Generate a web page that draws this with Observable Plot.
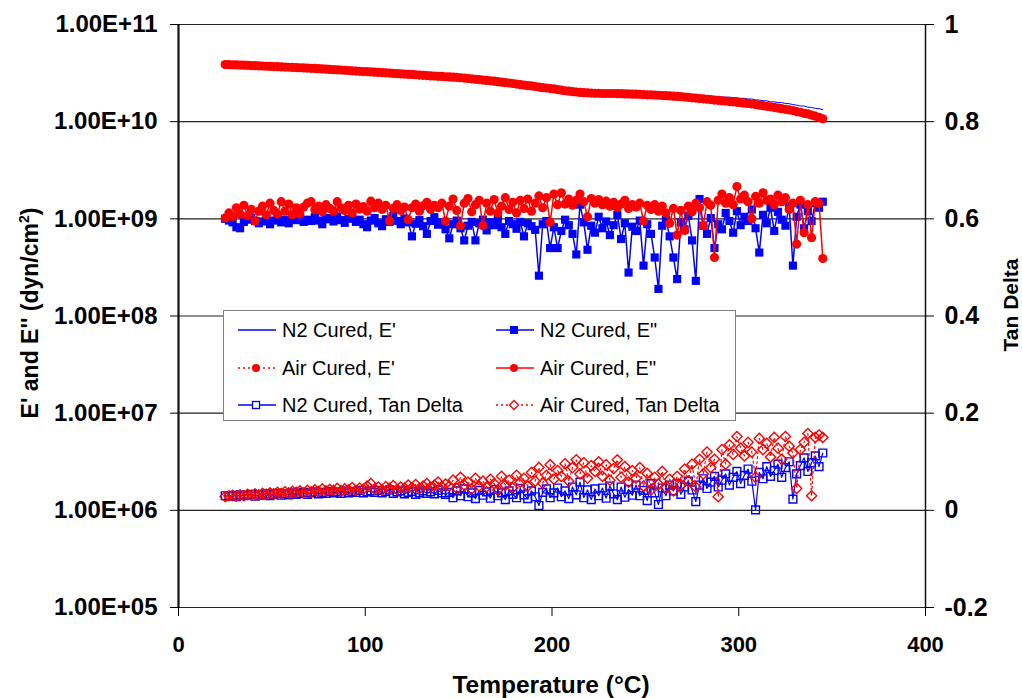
<!DOCTYPE html>
<html><head><meta charset="utf-8">
<script src="https://cdn.jsdelivr.net/npm/d3@7"></script>
<script src="https://cdn.jsdelivr.net/npm/@observablehq/plot@0.6"></script>
<style>
body{margin:0;background:#fff;font-family:"Liberation Sans",Arial,sans-serif;}
#wrap{position:relative;width:1022px;height:698px;overflow:hidden;}
#legend{position:absolute;left:223px;top:310px;width:511px;height:109px;border:1px solid #808080;background:#fff;}
.item{position:absolute;height:24px;display:flex;align-items:center;font-size:20px;color:#000;white-space:nowrap;}
.item svg{margin-right:5px;}
.title{position:absolute;font-weight:bold;color:#000;white-space:nowrap;}
</style></head><body><div id="wrap"></div>
<script>
// Temperature (°C)
const temperature = [
 25,27,29,31,33,35,37,39,41,43,
 45,47,49,51,53,55,57,59,61,63,
 65,67,69,71,73,75,77,79,81,83,
 85,87,89,91,93,95,97,99,101,103,
 105,107,109,111,113,115,117,119,121,123,
 125,127,129,131,133,135,137,139,141,143,
 145,147,149,151,153,155,157,159,161,163,
 165,167,169,171,173,175,177,179,181,183,
 185,187,189,191,193,195,197,199,201,203,
 205,207,209,211,213,215,217,219,221,223,
 225,227,229,231,233,235,237,239,241,243,
 245,247,249,251,253,255,257,259,261,263,
 265,267,269,271,273,275,277,279,281,283,
 285,287,289,291,293,295,297,299,301,303,
 305,307,309,311,313,315,317,319,321,323,
 325,327,329,331,333,335,337,339,341,343,
 345];

// N2 Cured, E' (x1e10 dyn/cm2)
const n2Storage = [
 3.85,3.85,3.83,3.83,3.81,3.80,3.79,3.78,3.76,3.75,
 3.73,3.73,3.70,3.70,3.67,3.67,3.64,3.63,3.61,3.60,
 3.58,3.57,3.55,3.54,3.52,3.51,3.48,3.48,3.45,3.44,
 3.41,3.40,3.37,3.37,3.34,3.33,3.30,3.29,3.26,3.25,
 3.22,3.22,3.19,3.18,3.16,3.15,3.12,3.11,3.08,3.08,
 3.05,3.04,3.02,3.01,2.98,2.97,2.95,2.94,2.92,2.91,
 2.88,2.88,2.85,2.84,2.81,2.79,2.76,2.75,2.71,2.70,
 2.66,2.65,2.61,2.60,2.56,2.55,2.51,2.50,2.46,2.45,
 2.41,2.40,2.36,2.35,2.31,2.30,2.27,2.25,2.22,2.21,
 2.17,2.16,2.13,2.12,2.10,2.10,2.08,2.09,2.07,2.08,
 2.06,2.07,2.05,2.06,2.04,2.05,2.03,2.04,2.02,2.03,
 2.00,2.01,1.99,2.00,1.98,1.99,1.97,1.97,1.95,1.96,
 1.93,1.94,1.91,1.92,1.89,1.89,1.87,1.87,1.84,1.85,
 1.82,1.82,1.80,1.80,1.78,1.79,1.77,1.76,1.74,1.74,
 1.71,1.71,1.68,1.67,1.64,1.64,1.60,1.60,1.57,1.57,
 1.54,1.53,1.50,1.48,1.45,1.45,1.41,1.40,1.37,1.36,
 1.33];
// Air Cured, E' (x1e10 dyn/cm2)
const airStorage = [
 3.87,3.86,3.85,3.84,3.82,3.81,3.80,3.78,3.77,3.75,
 3.74,3.72,3.71,3.69,3.68,3.66,3.65,3.63,3.62,3.60,
 3.59,3.57,3.56,3.54,3.53,3.51,3.49,3.47,3.45,3.43,
 3.42,3.40,3.38,3.36,3.34,3.32,3.30,3.28,3.27,3.25,
 3.23,3.21,3.20,3.18,3.16,3.14,3.12,3.10,3.09,3.07,
 3.06,3.04,3.02,3.00,2.98,2.96,2.95,2.93,2.92,2.90,
 2.89,2.87,2.86,2.83,2.81,2.78,2.76,2.73,2.71,2.68,
 2.66,2.63,2.61,2.58,2.55,2.52,2.50,2.47,2.44,2.41,
 2.38,2.35,2.33,2.30,2.27,2.24,2.22,2.19,2.17,2.14,
 2.11,2.08,2.06,2.04,2.02,2.00,1.99,1.98,1.97,1.96,
 1.96,1.95,1.95,1.95,1.95,1.94,1.94,1.93,1.93,1.92,
 1.92,1.91,1.90,1.89,1.89,1.88,1.87,1.86,1.85,1.84,
 1.83,1.82,1.81,1.79,1.78,1.76,1.75,1.73,1.72,1.70,
 1.69,1.67,1.66,1.64,1.63,1.61,1.60,1.58,1.57,1.55,
 1.54,1.52,1.50,1.48,1.46,1.44,1.42,1.40,1.38,1.36,
 1.34,1.32,1.30,1.27,1.25,1.22,1.20,1.17,1.14,1.11,
 1.07];
// N2 Cured, E" (x1e9 dyn/cm2)
const n2Loss = [
 1.00,0.96,0.92,0.82,0.80,0.93,0.98,1.02,0.95,0.90,
 0.94,0.99,0.88,0.96,1.05,0.92,0.98,0.90,1.03,0.97,
 1.01,0.93,0.98,0.95,1.04,0.96,0.88,0.99,1.02,0.94,
 1.06,0.97,0.91,1.00,1.03,0.93,0.98,0.88,0.82,0.96,
 1.02,0.90,0.84,0.99,0.93,1.07,0.95,0.88,1.01,0.92,
 0.66,0.89,0.97,0.84,0.70,0.95,1.04,0.87,0.92,0.78,
 0.63,0.88,0.96,0.80,0.60,0.85,0.93,0.60,0.90,0.98,
 0.76,0.92,0.86,1.00,0.82,0.70,0.95,0.88,0.79,0.93,
 0.66,0.90,0.84,0.77,0.26,0.88,0.95,0.50,0.82,0.50,
 0.75,0.98,0.86,0.70,0.43,1.40,0.92,0.48,0.85,0.72,
 1.05,0.80,0.94,0.68,0.86,1.10,0.62,0.90,0.28,0.83,
 0.75,0.96,0.33,0.88,0.70,0.40,0.19,0.85,0.98,0.66,
 0.40,0.24,0.92,0.78,1.08,0.60,0.23,1.60,0.85,0.70,
 1.02,0.50,0.88,0.78,1.15,0.95,0.72,1.20,0.86,1.05,
 0.95,1.25,0.80,0.45,1.10,0.90,1.30,0.75,1.18,0.98,
 0.85,1.35,0.33,1.05,1.40,0.80,1.20,0.95,1.45,1.30,
 1.50];
// Air Cured, E" (x1e9 dyn/cm2)
const airLoss = [
 1.02,1.15,1.06,1.30,1.12,1.38,1.08,1.25,0.95,1.20,
 1.35,1.10,1.45,1.22,1.12,1.50,1.20,1.42,1.10,1.30,
 1.12,1.32,1.45,1.50,1.24,1.35,1.18,1.40,1.28,1.20,
 1.50,1.30,1.22,1.38,1.15,1.42,1.26,1.34,1.20,1.52,
 1.30,1.45,1.25,1.38,0.95,1.28,1.40,1.22,1.32,0.98,
 1.30,1.42,1.20,1.36,1.48,1.25,1.38,1.30,1.45,0.95,
 1.35,1.60,1.22,0.85,1.45,1.62,1.18,1.40,1.55,0.85,
 1.45,1.20,1.58,1.15,1.35,1.65,1.25,1.48,1.15,1.55,
 1.28,1.60,1.20,1.45,1.72,1.30,1.65,0.92,1.80,1.40,
 1.85,1.42,1.60,1.38,1.55,1.80,1.50,1.05,1.62,1.45,
 1.58,1.40,1.52,1.35,1.48,1.30,1.42,1.55,1.28,1.40,
 1.32,1.45,0.95,1.38,1.25,1.40,1.20,1.35,1.15,0.90,
 1.28,0.68,1.22,0.76,1.35,1.18,1.45,1.30,0.85,1.50,
 1.38,0.40,1.55,1.80,1.45,1.65,1.40,2.15,1.60,1.75,
 1.50,1.00,1.70,1.45,1.85,1.55,1.60,1.40,1.75,1.50,
 1.65,1.25,1.45,0.55,1.55,0.72,1.40,0.64,1.50,1.45,
 0.39];
// N2 Cured, Tan Delta
const n2Tan = [
 0.030,0.029,0.031,0.028,0.032,0.030,0.031,0.033,0.029,0.032,
 0.031,0.034,0.030,0.033,0.035,0.031,0.034,0.032,0.036,0.033,
 0.035,0.037,0.033,0.036,0.038,0.034,0.037,0.035,0.039,0.036,
 0.038,0.035,0.040,0.036,0.039,0.037,0.041,0.036,0.038,0.040,
 0.037,0.041,0.036,0.039,0.042,0.035,0.038,0.040,0.034,0.037,
 0.039,0.033,0.036,0.040,0.035,0.038,0.034,0.041,0.036,0.033,
 0.037,0.026,0.040,0.030,0.044,0.028,0.036,0.024,0.041,0.031,
 0.038,0.025,0.043,0.030,0.036,0.022,0.040,0.033,0.026,0.045,
 0.032,0.024,0.040,0.028,0.010,0.037,0.044,0.026,0.036,0.046,
 0.028,0.040,0.024,0.048,0.032,0.058,0.026,0.042,0.022,0.044,
 0.030,0.046,0.025,0.050,0.034,0.022,0.048,0.027,0.043,0.031,
 0.052,0.030,0.041,0.020,0.055,0.036,0.012,0.046,0.030,0.052,
 0.040,0.055,0.033,0.048,0.060,0.042,0.018,0.052,0.065,0.045,
 0.058,0.070,0.048,0.062,0.075,0.052,0.068,0.080,0.055,0.072,
 0.085,0.060,0.001,0.078,0.065,0.090,0.070,0.082,0.095,0.068,
 0.088,0.100,0.023,0.075,0.092,0.108,0.080,0.098,0.112,0.090,
 0.118];
// Air Cured, Tan Delta
const airTan = [
 0.028,0.030,0.031,0.029,0.032,0.030,0.033,0.031,0.034,0.032,
 0.035,0.033,0.036,0.034,0.037,0.035,0.038,0.036,0.039,0.037,
 0.040,0.036,0.041,0.038,0.042,0.039,0.044,0.040,0.043,0.041,
 0.045,0.040,0.044,0.042,0.047,0.041,0.046,0.043,0.050,0.055,
 0.044,0.048,0.042,0.049,0.045,0.051,0.043,0.048,0.046,0.052,
 0.047,0.053,0.045,0.050,0.055,0.048,0.052,0.058,0.049,0.054,
 0.050,0.062,0.045,0.068,0.052,0.058,0.044,0.066,0.050,0.060,
 0.048,0.064,0.055,0.042,0.070,0.052,0.062,0.046,0.072,0.058,
 0.066,0.050,0.078,0.060,0.088,0.056,0.072,0.094,0.064,0.082,
 0.070,0.096,0.060,0.088,0.104,0.075,0.098,0.066,0.092,0.080,
 0.100,0.070,0.094,0.062,0.086,0.104,0.068,0.090,0.058,0.082,
 0.066,0.088,0.050,0.076,0.042,0.068,0.054,0.080,0.046,0.064,
 0.040,0.070,0.052,0.085,0.060,0.095,0.048,0.105,0.075,0.120,
 0.088,0.105,0.028,0.125,0.095,0.135,0.115,0.152,0.128,0.112,
 0.140,0.120,0.068,0.148,0.125,0.138,0.110,0.150,0.128,0.105,
 0.152,0.132,0.118,0.045,0.125,0.140,0.158,0.030,0.150,0.155,
 0.150];

const xTicks = [0,100,200,300,400];
const decadeExps = [5,6,7,8,9,10,11];
const tanTicks = [-0.2,0,0.2,0.4,0.6,0.8,1];

const decades = decadeExps.map(e => 10 ** e);
const tanToY = t => 10 ** (6 + 5 * t);
const mk = (vals, scale) => temperature.map((T, i) => ({T, v: vals[i] * scale}));
const mkTan = vals => temperature.map((T, i) => ({T, v: tanToY(vals[i])}));

const dN2S = mk(n2Storage, 1e10), dAirS = mk(airStorage, 1e10);
const dN2L = mk(n2Loss, 1e9), dAirL = mk(airLoss, 1e9);
const dN2T = mkTan(n2Tan), dAirT = mkTan(airTan);

const BLUE = "#0000ff", RED = "#ff0000";

const chart = Plot.plot({
  width: 1022, height: 698,
  marginLeft: 178, marginRight: 97, marginTop: 24, marginBottom: 91,
  style: {fontFamily: "'Liberation Sans', Arial, sans-serif", color: "#000", background: "#fff"},
  x: {domain: [0, 400], label: null},
  y: {type: "log", domain: [1e5, 1e11], label: null},
  marks: [
    Plot.ruleY(decades, {stroke: "#222", strokeWidth: 1.2}),
    Plot.ruleX([0], {stroke: "#111", strokeWidth: 2.2}),
    Plot.ruleX([400], {stroke: "#111", strokeWidth: 1.5}),
    Plot.axisY(decades, {anchor: "left", tickSize: 8, tickPadding: 13, fontSize: 24, fontWeight: "bold",
      tickFormat: d => "1.00E+" + String(Math.round(Math.log10(d))).padStart(2, "0")}),
    Plot.axisY(tanTicks.map(tanToY), {anchor: "right", tickSize: 8, tickPadding: 11, fontSize: 25, fontWeight: "bold",
      tickFormat: d => String(Math.round((Math.log10(d) - 6) / 5 * 10) / 10)}),
    Plot.axisX(xTicks, {tickSize: 9, tickPadding: 20, fontSize: 22, fontWeight: "bold"}),

    // N2 series
    Plot.line(dN2S, {x: "T", y: "v", stroke: BLUE, strokeWidth: 1}),
    Plot.line(dN2L, {x: "T", y: "v", stroke: BLUE, strokeWidth: 1.5}),
    Plot.dot(dN2L, {x: "T", y: "v", symbol: "square", r: 4.6, fill: BLUE}),
    Plot.line(dN2T, {x: "T", y: "v", stroke: BLUE, strokeWidth: 1.2}),
    Plot.dot(dN2T, {x: "T", y: "v", symbol: "square", r: 4.4, fill: "none", stroke: BLUE, strokeWidth: 1.4}),

    // Air series
    Plot.line(dAirS, {x: "T", y: "v", stroke: RED, strokeWidth: 1.5, strokeDasharray: "2,3"}),
    Plot.dot(dAirS, {x: "T", y: "v", r: 4.6, fill: RED}),
    Plot.line(dAirL, {x: "T", y: "v", stroke: RED, strokeWidth: 1.5}),
    Plot.dot(dAirL, {x: "T", y: "v", r: 4.6, fill: RED}),
    Plot.line(dAirT, {x: "T", y: "v", stroke: RED, strokeWidth: 1.2, strokeDasharray: "2,3"}),
    Plot.dot(dAirT, {x: "T", y: "v", symbol: "diamond2", r: 4.6, fill: "none", stroke: RED, strokeWidth: 1.4})
  ]
});

const wrap = document.getElementById("wrap");
wrap.appendChild(chart);

// Axis titles
const tl = document.createElement("div");
tl.className = "title";
tl.style.cssText += "left:30px;top:313px;font-size:23px;transform:translate(-50%,-50%) rotate(-90deg);";
tl.innerHTML = "E' and E'' (dyn/cm<sup style='font-size:14px;vertical-align:9px;line-height:0'>2</sup>)";
wrap.appendChild(tl);

const tr = document.createElement("div");
tr.className = "title";
tr.style.cssText += "left:1011px;top:305px;font-size:21px;transform:translate(-50%,-50%) rotate(-90deg);";
tr.textContent = "Tan Delta";
wrap.appendChild(tr);

const tx = document.createElement("div");
tx.className = "title";
tx.style.cssText += "left:551px;top:685px;font-size:24.5px;transform:translate(-50%,-50%);";
tx.textContent = "Temperature (°C)";
wrap.appendChild(tx);

// Legend
const legendItems = [
  {label: "N2 Cured, E'", col: 0, row: 0, color: BLUE, dash: null, marker: null},
  {label: "N2 Cured, E\"", col: 1, row: 0, color: BLUE, dash: null, marker: "fsquare"},
  {label: "Air Cured, E'", col: 0, row: 1, color: RED, dash: "2,3", marker: "fcircle"},
  {label: "Air Cured, E\"", col: 1, row: 1, color: RED, dash: null, marker: "fcircle"},
  {label: "N2 Cured, Tan Delta", col: 0, row: 2, color: BLUE, dash: null, marker: "osquare"},
  {label: "Air Cured, Tan Delta", col: 1, row: 2, color: RED, dash: "2,3", marker: "odiamond"}
];
const legend = document.createElement("div");
legend.id = "legend";
const colX = [13, 271], rowY = [7, 45, 82];
for (const it of legendItems) {
  const d = document.createElement("div");
  d.className = "item";
  d.style.left = colX[it.col] + "px";
  d.style.top = rowY[it.row] + "px";
  let m = "";
  if (it.marker === "fsquare") m = `<rect x="15" y="3" width="8" height="8" fill="${it.color}"/>`;
  if (it.marker === "fcircle") m = `<circle cx="19" cy="7" r="4" fill="${it.color}"/>`;
  if (it.marker === "osquare") m = `<rect x="15.5" y="3.5" width="7" height="7" fill="#fff" stroke="${it.color}" stroke-width="1.3"/>`;
  if (it.marker === "odiamond") m = `<path d="M19,2.5L23.5,7L19,11.5L14.5,7Z" fill="#fff" stroke="${it.color}" stroke-width="1.3"/>`;
  d.innerHTML = `<svg width="40" height="14"><line x1="1" y1="7" x2="39" y2="7" stroke="${it.color}" stroke-width="1.5" ${it.dash ? `stroke-dasharray="${it.dash}"` : ""}/>${m}</svg><span>${it.label}</span>`;
  legend.appendChild(d);
}
wrap.appendChild(legend);
</script>
</body></html>
